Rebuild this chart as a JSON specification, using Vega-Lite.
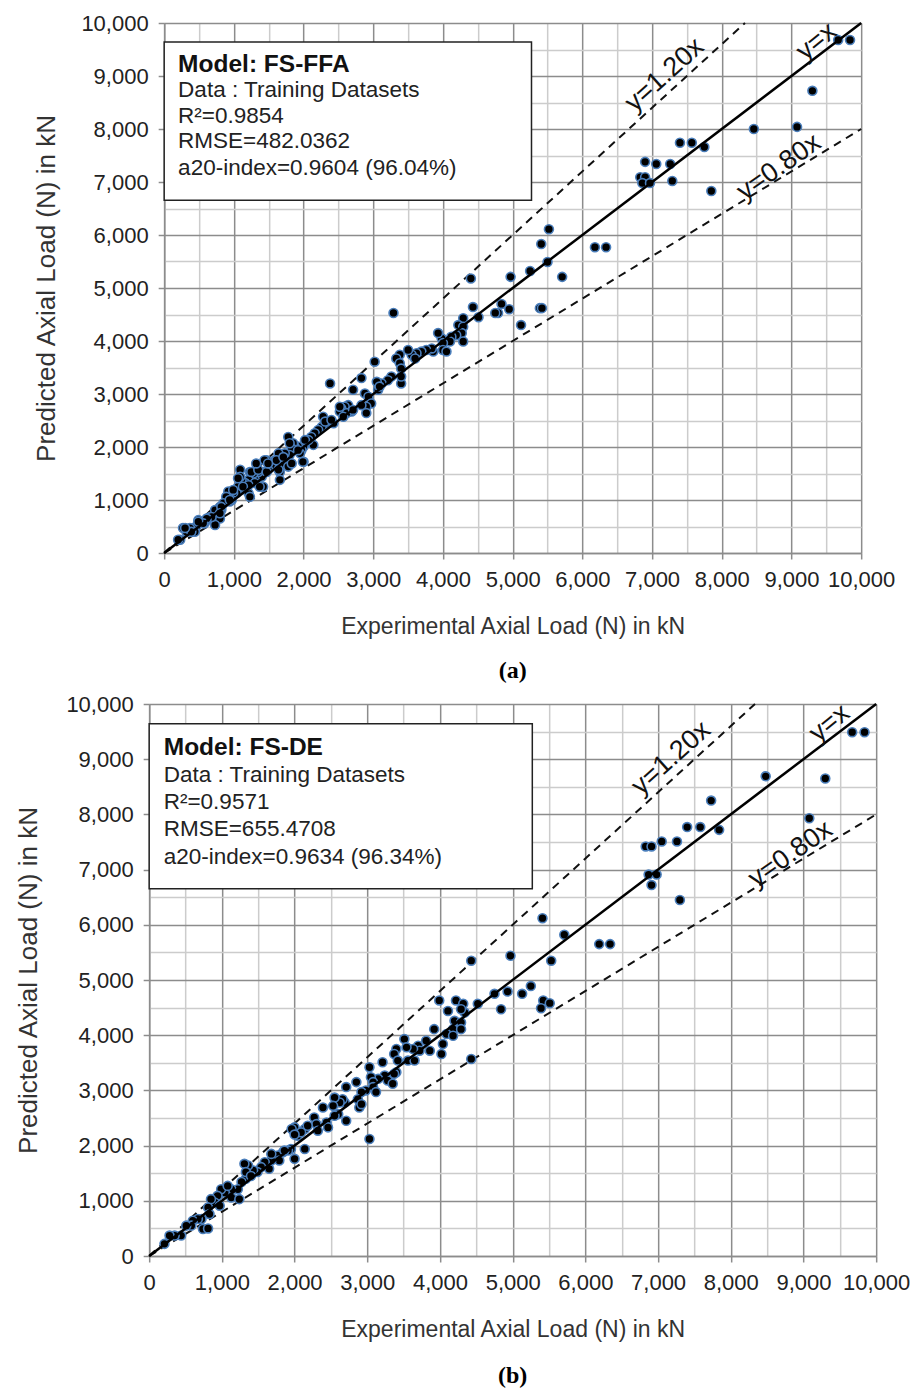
{
  "$schema": "https://vega.github.io/schema/vega-lite/v6.json",
  "padding": {"top": 12, "left": 15, "right": 5, "bottom": 0},
  "background": "white",
  "spacing": 10,
  "center": true,
  "config": {
    "view": {"stroke": null},
    "axis": {
      "grid": true,
      "gridWidth": 1.5,
      "domainColor": "#8c8c8c",
      "domainWidth": 1.5,
      "tickColor": "#8c8c8c",
      "tickWidth": 1.5,
      "tickSize": 6,
      "labelFont": "Liberation Sans",
      "labelFontSize": 22,
      "labelColor": "#222222",
      "labelPadding": 10,
      "labelFlush": false,
      "labelOverlap": false,
      "titleFont": "Liberation Sans",
      "titleFontSize": 23,
      "titleFontWeight": "normal",
      "titleColor": "#333333"
    },
    "title": {"font": "Liberation Serif", "fontSize": 24, "fontWeight": "bold", "color": "#000000"}
  },
  "datasets": {
    "ptsA": [
      {"x":9670,"y":9680},{"x":9840,"y":9680},{"x":9300,"y":8720},{"x":8460,"y":8000},{"x":9080,"y":8040},
      {"x":7400,"y":7740},{"x":7570,"y":7740},{"x":7750,"y":7660},{"x":6900,"y":7380},{"x":7060,"y":7340},
      {"x":7260,"y":7340},{"x":6830,"y":7090},{"x":6900,"y":7090},{"x":6860,"y":6980},{"x":6970,"y":6980},
      {"x":7290,"y":7020},{"x":7850,"y":6830},{"x":5520,"y":6110},{"x":5410,"y":5830},{"x":5500,"y":5490},
      {"x":6180,"y":5770},{"x":6340,"y":5770},{"x":4970,"y":5210},{"x":5250,"y":5320},{"x":5710,"y":5210},
      {"x":4840,"y":4700},{"x":4790,"y":4530},{"x":4950,"y":4600},{"x":5390,"y":4620},{"x":5420,"y":4620},
      {"x":5120,"y":4300},{"x":3290,"y":4530},{"x":4430,"y":4640},{"x":4510,"y":4450},{"x":4290,"y":4430},
      {"x":4750,"y":4530},{"x":4400,"y":5180},
      {"x":4220,"y":4300},{"x":4290,"y":4270},{"x":4270,"y":4150},{"x":4190,"y":4110},{"x":4290,"y":3990},
      {"x":4120,"y":4080},{"x":4100,"y":3990},{"x":3980,"y":4050},{"x":4000,"y":3960},{"x":3930,"y":4150},
      {"x":4000,"y":3830},{"x":4050,"y":3800},{"x":3860,"y":3800},{"x":3840,"y":3860},{"x":3760,"y":3830},
      {"x":3690,"y":3800},{"x":3620,"y":3770},{"x":3550,"y":3740},{"x":3600,"y":3670},{"x":3500,"y":3830},
      {"x":3380,"y":3740},{"x":3330,"y":3670},{"x":3380,"y":3580},{"x":3400,"y":3480},{"x":3400,"y":3200},
      {"x":3400,"y":3330},{"x":3260,"y":3330},{"x":3210,"y":3260},{"x":3120,"y":3200},{"x":3070,"y":3080},
      {"x":3050,"y":3230},{"x":3090,"y":3140},{"x":3020,"y":3610},{"x":2830,"y":3300},{"x":2880,"y":3010},
      {"x":2930,"y":2950},{"x":2970,"y":2820},{"x":2900,"y":2760},{"x":2830,"y":2790},{"x":2900,"y":2640},
      {"x":2710,"y":3080},{"x":2640,"y":2790},{"x":2590,"y":2760},{"x":2540,"y":2730},{"x":2520,"y":2670},
      {"x":2690,"y":2670},{"x":2620,"y":2640},{"x":2570,"y":2570},{"x":2380,"y":3200},{"x":2430,"y":2450},
      {"x":2350,"y":2480},{"x":2280,"y":2570},{"x":2310,"y":2450},{"x":2260,"y":2380},{"x":2210,"y":2320},
      {"x":2160,"y":2260},{"x":2110,"y":2190},{"x":2140,"y":2040},{"x":2070,"y":2130},{"x":2020,"y":2070},
      {"x":2000,"y":2010},{"x":1970,"y":1940},{"x":1950,"y":1880},{"x":1920,"y":2010},{"x":1870,"y":2010},
      {"x":1850,"y":2070},{"x":1830,"y":1970},{"x":1780,"y":2190},{"x":1800,"y":1850},{"x":2000,"y":1720},
      {"x":1750,"y":1750},{"x":1730,"y":1880},{"x":1710,"y":1790},{"x":1680,"y":1660},{"x":1660,"y":1530},
      {"x":1660,"y":1380},{"x":1640,"y":1880},{"x":1590,"y":1750},{"x":1540,"y":1660},{"x":1470,"y":1750},
      {"x":1490,"y":1570},{"x":1440,"y":1530},{"x":1400,"y":1440},{"x":1420,"y":1250},{"x":1350,"y":1530},
      {"x":1300,"y":1380},{"x":1280,"y":1500},{"x":1230,"y":1530},{"x":1210,"y":1380},{"x":1160,"y":1320},
      {"x":1110,"y":1380},{"x":1090,"y":1570},{"x":1090,"y":1440},{"x":1130,"y":1220},{"x":1210,"y":1130},
      {"x":1230,"y":1060},{"x":1060,"y":1250},{"x":1040,"y":1130},{"x":990,"y":1130},{"x":920,"y":1160},
      {"x":970,"y":1000},{"x":940,"y":970},{"x":890,"y":1060},{"x":850,"y":940},{"x":800,"y":870},
      {"x":820,"y":810},{"x":730,"y":810},{"x":750,"y":680},{"x":800,"y":650},{"x":660,"y":680},
      {"x":610,"y":620},{"x":580,"y":560},{"x":540,"y":590},{"x":490,"y":620},{"x":460,"y":500},
      {"x":440,"y":400},{"x":370,"y":470},{"x":320,"y":400},{"x":270,"y":470},{"x":230,"y":250},
      {"x":730,"y":530},
      {"x":1250,"y":1530},{"x":1350,"y":1570},{"x":1470,"y":1530},{"x":1610,"y":1750},{"x":1730,"y":1790},
      {"x":1440,"y":1750},{"x":1300,"y":1320},{"x":1210,"y":1280},{"x":1130,"y":1250},{"x":1370,"y":1250},
      {"x":940,"y":1000},{"x":820,"y":870},{"x":800,"y":750},{"x":680,"y":680},{"x":610,"y":650},
      {"x":560,"y":560},{"x":490,"y":590},{"x":390,"y":400},{"x":300,"y":470},{"x":200,"y":250},
      {"x":1780,"y":1630},{"x":1830,"y":1690},{"x":1920,"y":1940},{"x":1990,"y":1720},{"x":2020,"y":2130},
      {"x":2310,"y":2480},{"x":2400,"y":2510},{"x":2520,"y":2760},{"x":2710,"y":2700},{"x":1800,"y":2070},
      {"x":1710,"y":1810},{"x":1640,"y":1570},{"x":1490,"y":1690},{"x":1320,"y":1690},{"x":1060,"y":1410},
      {"x":990,"y":1190}
    ],
    "ptsB": [
      {"x":9670,"y":9490},{"x":9840,"y":9490},{"x":9300,"y":8650},{"x":8480,"y":8690},{"x":7730,"y":8250},
      {"x":9080,"y":7930},{"x":7400,"y":7770},{"x":7580,"y":7770},{"x":7840,"y":7720},{"x":6830,"y":7420},
      {"x":6910,"y":7420},{"x":7050,"y":7510},{"x":7260,"y":7510},{"x":6870,"y":6910},{"x":6980,"y":6910},
      {"x":6910,"y":6720},{"x":7300,"y":6450},{"x":5410,"y":6120},{"x":5710,"y":5820},{"x":6190,"y":5650},
      {"x":6340,"y":5650},{"x":4970,"y":5440},{"x":5530,"y":5350},{"x":4930,"y":4790},{"x":5130,"y":4750},
      {"x":5250,"y":4890},{"x":5420,"y":4630},{"x":5510,"y":4580},{"x":5390,"y":4490},{"x":4840,"y":4470},
      {"x":4430,"y":5350},
      {"x":3990,"y":4630},{"x":4110,"y":4440},{"x":4220,"y":4630},{"x":4320,"y":4570},{"x":4340,"y":4410},
      {"x":4290,"y":4470},{"x":4520,"y":4570},{"x":4750,"y":4750},{"x":4200,"y":4260},{"x":4290,"y":4230},
      {"x":4180,"y":4110},{"x":4290,"y":4110},{"x":4090,"y":4020},{"x":4180,"y":3990},{"x":3920,"y":4110},
      {"x":4040,"y":3840},{"x":4020,"y":3660},{"x":4430,"y":3570},{"x":3860,"y":3720},{"x":3810,"y":3900},
      {"x":3700,"y":3810},{"x":3720,"y":3720},{"x":3630,"y":3750},{"x":3510,"y":3930},{"x":3540,"y":3780},
      {"x":3400,"y":3750},{"x":3370,"y":3660},{"x":3560,"y":3540},{"x":3650,"y":3540},{"x":3210,"y":3510},
      {"x":3420,"y":3540},{"x":3400,"y":3330},{"x":3370,"y":3300},{"x":3240,"y":3270},{"x":3280,"y":3180},
      {"x":3350,"y":3120},{"x":3150,"y":3210},{"x":3030,"y":3420},{"x":3050,"y":3240},{"x":3080,"y":3150},
      {"x":3080,"y":3060},{"x":3120,"y":2970},{"x":3030,"y":2120},{"x":2980,"y":3000},{"x":2920,"y":2970},
      {"x":2870,"y":2840},{"x":2890,"y":2690},{"x":2920,"y":2750},{"x":2850,"y":3150},{"x":2710,"y":3060},
      {"x":2690,"y":2780},{"x":2660,"y":2840},{"x":2620,"y":2780},{"x":2550,"y":2870},{"x":2530,"y":2720},
      {"x":2600,"y":2570},{"x":2710,"y":2450},{"x":2550,"y":2540},{"x":2390,"y":2690},{"x":2440,"y":2420},
      {"x":2460,"y":2330},{"x":2270,"y":2510},{"x":2300,"y":2390},{"x":2140,"y":2300},{"x":2180,"y":2360},
      {"x":2320,"y":2270},{"x":2000,"y":2330},{"x":2040,"y":2180},{"x":2090,"y":2240},{"x":2140,"y":1940},
      {"x":1950,"y":1940},{"x":1910,"y":1910},{"x":2000,"y":1760},{"x":1840,"y":1880},{"x":1770,"y":1820},
      {"x":1790,"y":1730},{"x":1650,"y":1580},{"x":1680,"y":1730},{"x":1590,"y":1700},{"x":1540,"y":1610},
      {"x":1490,"y":1520},{"x":1430,"y":1550},{"x":1360,"y":1640},{"x":1330,"y":1400},{"x":1270,"y":1340},
      {"x":1220,"y":1210},{"x":1130,"y":1210},{"x":1130,"y":1060},{"x":1040,"y":1150},{"x":990,"y":1210},
      {"x":940,"y":1090},{"x":900,"y":970},{"x":850,"y":1030},{"x":810,"y":880},{"x":830,"y":760},
      {"x":720,"y":670},{"x":670,"y":670},{"x":600,"y":640},{"x":580,"y":550},{"x":510,"y":550},
      {"x":440,"y":370},{"x":350,"y":370},{"x":280,"y":370},{"x":210,"y":220},{"x":740,"y":490},
      {"x":810,"y":500},{"x":1310,"y":1670},{"x":1330,"y":1520},{"x":1400,"y":1450},{"x":1240,"y":1030},
      {"x":970,"y":910},{"x":1080,"y":1270},{"x":1680,"y":1850},{"x":1860,"y":1910},{"x":1960,"y":2300},
      {"x":2000,"y":2200}
    ],
    "lines": [
      {"s":"1.20","x":0,"y":0},{"s":"1.20","x":8333,"y":10000},
      {"s":"1.00","x":0,"y":0},{"s":"1.00","x":10000,"y":10000},
      {"s":"0.80","x":0,"y":0},{"s":"0.80","x":10000,"y":8000}
    ],
    "lineLabels": [
      {"t":"y=1.20x","x":7180,"y":9020},
      {"t":"y=x","x":9360,"y":9650},
      {"t":"y=0.80x","x":8820,"y":7280}
    ],
    "box": [{"x":0,"xe":5270,"y":6655,"ye":9640}],
    "textA": [
      {"t":"Data : Training Datasets","x":200,"y":8604},
      {"t":"R²=0.9854","x":200,"y":8113},
      {"t":"RMSE=482.0362","x":200,"y":7642},
      {"t":"a20-index=0.9604 (96.04%)","x":200,"y":7132}
    ],
    "textB": [
      {"t":"Data : Training Datasets","x":200,"y":8587},
      {"t":"R²=0.9571","x":200,"y":8098},
      {"t":"RMSE=655.4708","x":200,"y":7609},
      {"t":"a20-index=0.9634 (96.34%)","x":200,"y":7101}
    ],
    "headA": [{"t":"Model: FS-FFA","x":200,"y":9075}],
    "headB": [{"t":"Model: FS-DE","x":200,"y":9076}]
  },
  "vconcat": [
    {
      "width": 697,
      "height": 530,
      "title": {"text": "(a)", "orient": "bottom", "offset": 21},
      "encoding": {
        "x": {"field": "x", "type": "quantitative", "scale": {"domain": [0, 10000], "nice": false},
          "axis": {"values": [0,500,1000,1500,2000,2500,3000,3500,4000,4500,5000,5500,6000,6500,7000,7500,8000,8500,9000,9500,10000],
            "title": "Experimental Axial Load (N) in kN", "titlePadding": 25,
            "labelExpr": "datum.value % 1000 === 0 ? format(datum.value, ',') : ''",
            "gridColor": {"condition": {"test": "datum.value % 1000 === 0", "value": "#8c8c8c"}, "value": "#cccccc"},
            "tickOpacity": {"condition": {"test": "datum.value % 1000 === 0", "value": 1}, "value": 0}}},
        "y": {"field": "y", "type": "quantitative", "scale": {"domain": [0, 10000], "nice": false},
          "axis": {"values": [0,500,1000,1500,2000,2500,3000,3500,4000,4500,5000,5500,6000,6500,7000,7500,8000,8500,9000,9500,10000],
            "title": "Predicted Axial Load (N) in kN", "titlePadding": 21, "titleFontSize": 26,
            "labelExpr": "datum.value % 1000 === 0 ? format(datum.value, ',') : ''",
            "gridColor": {"condition": {"test": "datum.value % 1000 === 0", "value": "#8c8c8c"}, "value": "#cccccc"},
            "tickOpacity": {"condition": {"test": "datum.value % 1000 === 0", "value": 1}, "value": 0}}}
      },
      "layer": [
        {
          "data": {"name": "box"},
          "mark": {"type": "rect", "fill": "white", "stroke": "#222222", "strokeWidth": 1.5},
          "encoding": {"x2": {"field": "xe"}, "y2": {"field": "ye"}}
        },
        {
          "data": {"name": "lines"},
          "transform": [{"filter": "datum.s !== '1.00'"}],
          "mark": {"type": "line", "color": "#111111", "strokeWidth": 2, "strokeDash": [8, 6]},
          "encoding": {"detail": {"field": "s"}}
        },
        {
          "data": {"name": "ptsA"},
          "mark": {"type": "circle", "color": "#000000", "stroke": "#4a7ebb", "strokeWidth": 1.6, "size": 80, "opacity": 1},
          "encoding": {}
        },
        {
          "data": {"name": "lines"},
          "transform": [{"filter": "datum.s === '1.00'"}],
          "mark": {"type": "line", "color": "#000000", "strokeWidth": 2.5},
          "encoding": {}
        },
        {
          "data": {"name": "lineLabels"},
          "transform": [{"filter": "datum.t === 'y=1.20x'"}],
          "mark": {"type": "text", "font": "Liberation Sans", "fontSize": 27, "color": "#111111", "angle": -42, "align": "center", "baseline": "middle"},
          "encoding": {"text": {"field": "t"}}
        },
        {
          "data": {"name": "lineLabels"},
          "transform": [{"filter": "datum.t === 'y=x'"}],
          "mark": {"type": "text", "font": "Liberation Sans", "fontSize": 27, "color": "#111111", "angle": -39, "align": "center", "baseline": "middle"},
          "encoding": {"text": {"field": "t"}}
        },
        {
          "data": {"name": "lineLabels"},
          "transform": [{"filter": "datum.t === 'y=0.80x'"}],
          "mark": {"type": "text", "font": "Liberation Sans", "fontSize": 27, "color": "#111111", "angle": -35, "align": "center", "baseline": "middle"},
          "encoding": {"text": {"field": "t"}}
        },
        {
          "data": {"name": "headA"},
          "mark": {"type": "text", "font": "Liberation Sans", "fontSize": 24.5, "fontWeight": "bold", "color": "#111111", "align": "left", "baseline": "alphabetic"},
          "encoding": {"text": {"field": "t"}}
        },
        {
          "data": {"name": "textA"},
          "mark": {"type": "text", "font": "Liberation Sans", "fontSize": 22.5, "color": "#222222", "align": "left", "baseline": "alphabetic"},
          "encoding": {"text": {"field": "t"}}
        }
      ]
    },
    {
      "width": 727,
      "height": 552,
      "title": {"text": "(b)", "orient": "bottom", "offset": 23},
      "encoding": {
        "x": {"field": "x", "type": "quantitative", "scale": {"domain": [0, 10000], "nice": false},
          "axis": {"values": [0,500,1000,1500,2000,2500,3000,3500,4000,4500,5000,5500,6000,6500,7000,7500,8000,8500,9000,9500,10000],
            "title": "Experimental Axial Load (N) in kN", "titlePadding": 25,
            "labelExpr": "datum.value % 1000 === 0 ? format(datum.value, ',') : ''",
            "gridColor": {"condition": {"test": "datum.value % 1000 === 0", "value": "#8c8c8c"}, "value": "#cccccc"},
            "tickOpacity": {"condition": {"test": "datum.value % 1000 === 0", "value": 1}, "value": 0}}},
        "y": {"field": "y", "type": "quantitative", "scale": {"domain": [0, 10000], "nice": false},
          "axis": {"values": [0,500,1000,1500,2000,2500,3000,3500,4000,4500,5000,5500,6000,6500,7000,7500,8000,8500,9000,9500,10000],
            "title": "Predicted Axial Load (N) in kN", "titlePadding": 24, "titleFontSize": 26,
            "labelExpr": "datum.value % 1000 === 0 ? format(datum.value, ',') : ''",
            "gridColor": {"condition": {"test": "datum.value % 1000 === 0", "value": "#8c8c8c"}, "value": "#cccccc"},
            "tickOpacity": {"condition": {"test": "datum.value % 1000 === 0", "value": 1}, "value": 0}}}
      },
      "layer": [
        {
          "data": {"name": "box"},
          "mark": {"type": "rect", "fill": "white", "stroke": "#222222", "strokeWidth": 1.5},
          "encoding": {"x2": {"field": "xe"}, "y2": {"field": "ye"}}
        },
        {
          "data": {"name": "lines"},
          "transform": [{"filter": "datum.s !== '1.00'"}],
          "mark": {"type": "line", "color": "#111111", "strokeWidth": 2, "strokeDash": [8, 6]},
          "encoding": {"detail": {"field": "s"}}
        },
        {
          "data": {"name": "ptsB"},
          "mark": {"type": "circle", "color": "#000000", "stroke": "#4a7ebb", "strokeWidth": 1.6, "size": 80, "opacity": 1},
          "encoding": {}
        },
        {
          "data": {"name": "lines"},
          "transform": [{"filter": "datum.s === '1.00'"}],
          "mark": {"type": "line", "color": "#000000", "strokeWidth": 2.5},
          "encoding": {}
        },
        {
          "data": {"name": "lineLabels"},
          "transform": [{"filter": "datum.t === 'y=1.20x'"}],
          "mark": {"type": "text", "font": "Liberation Sans", "fontSize": 27, "color": "#111111", "angle": -42, "align": "center", "baseline": "middle"},
          "encoding": {"text": {"field": "t"}}
        },
        {
          "data": {"name": "lineLabels"},
          "transform": [{"filter": "datum.t === 'y=x'"}],
          "mark": {"type": "text", "font": "Liberation Sans", "fontSize": 27, "color": "#111111", "angle": -39, "align": "center", "baseline": "middle"},
          "encoding": {"text": {"field": "t"}}
        },
        {
          "data": {"name": "lineLabels"},
          "transform": [{"filter": "datum.t === 'y=0.80x'"}],
          "mark": {"type": "text", "font": "Liberation Sans", "fontSize": 27, "color": "#111111", "angle": -35, "align": "center", "baseline": "middle"},
          "encoding": {"text": {"field": "t"}}
        },
        {
          "data": {"name": "headB"},
          "mark": {"type": "text", "font": "Liberation Sans", "fontSize": 24.5, "fontWeight": "bold", "color": "#111111", "align": "left", "baseline": "alphabetic"},
          "encoding": {"text": {"field": "t"}}
        },
        {
          "data": {"name": "textB"},
          "mark": {"type": "text", "font": "Liberation Sans", "fontSize": 22.5, "color": "#222222", "align": "left", "baseline": "alphabetic"},
          "encoding": {"text": {"field": "t"}}
        }
      ]
    }
  ]
}
